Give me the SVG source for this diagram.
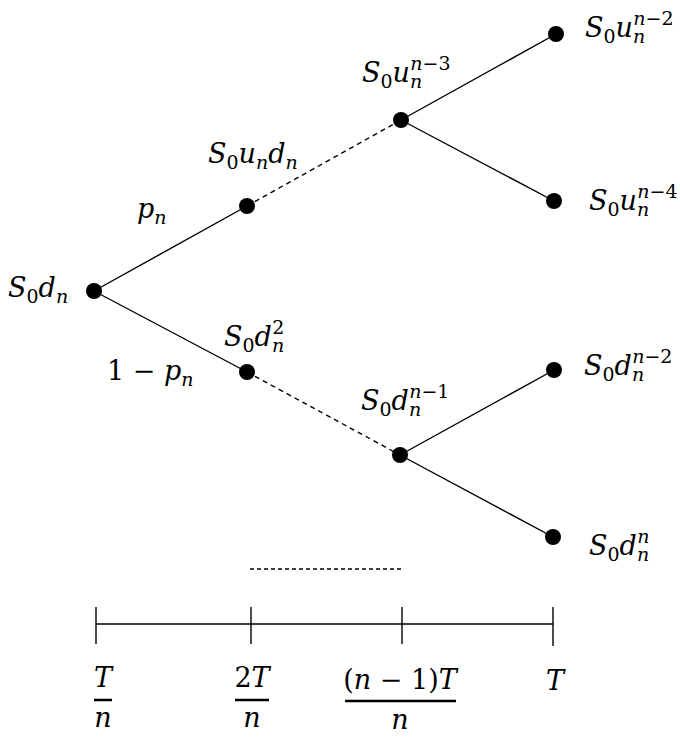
<svg xmlns="http://www.w3.org/2000/svg" width="680" height="743" viewBox="0 0 680 743">
<style>
.t{font-family:"DejaVu Serif",serif;font-size:27px;font-style:italic;fill:#000}
.u{font-style:normal}
.s{font-size:19px}
.e{stroke:#000;stroke-width:1.4;fill:none}
.d{stroke-dasharray:5 4}
.n{fill:#000}
.c{text-anchor:middle}
</style>
<rect width="680" height="743" fill="#fff"/>
<g id="connectors">
<line class="e" x1="94" y1="291" x2="247" y2="206"/>
<line class="e" x1="94" y1="291" x2="247" y2="372"/>
<line class="e d" x1="247" y1="206" x2="401" y2="120"/>
<line class="e d" x1="247" y1="372" x2="400" y2="455"/>
<line class="e" x1="401" y1="120" x2="556" y2="34"/>
<line class="e" x1="401" y1="120" x2="554" y2="201"/>
<line class="e" x1="400" y1="455" x2="554" y2="370"/>
<line class="e" x1="400" y1="455" x2="553" y2="537"/>
</g>
<g id="root"><circle class="n" cx="94" cy="291" r="8"/>
<text class="t" x="8" y="297">S<tspan class="s u" dy="6">0</tspan><tspan dy="-6">d</tspan><tspan class="s" dy="6">n</tspan></text></g>
<g id="pn"><text class="t" x="137" y="218">p<tspan class="s" dy="6">n</tspan></text></g>
<g id="qn"><text class="t" x="107" y="380"><tspan class="u">1 − </tspan>p<tspan class="s" dy="6">n</tspan></text></g>
<g id="ud"><circle class="n" cx="247" cy="206" r="8"/>
<text class="t" x="208" y="163">S<tspan class="s u" dy="6">0</tspan><tspan dy="-6">u</tspan><tspan class="s" dy="6">n</tspan><tspan dy="-6">d</tspan><tspan class="s" dy="6">n</tspan></text></g>
<g id="dd"><circle class="n" cx="247" cy="372" r="8"/>
<text class="t" x="224" y="346">S<tspan class="s u" dy="6">0</tspan><tspan dy="-6">d</tspan><tspan class="s" dy="6">n</tspan><tspan class="s u" dx="-12" dy="-18">2</tspan></text></g>
<g id="un3"><circle class="n" cx="401" cy="120" r="8"/>
<text class="t" x="362" y="82">S<tspan class="s u" dy="6">0</tspan><tspan dy="-6">u</tspan><tspan class="s" dy="6">n</tspan><tspan class="s" dx="-12" dy="-18">n</tspan><tspan class="s u">−3</tspan></text></g>
<g id="dn1"><circle class="n" cx="400" cy="455" r="8"/>
<text class="t" x="361" y="410">S<tspan class="s u" dy="6">0</tspan><tspan dy="-6">d</tspan><tspan class="s" dy="6">n</tspan><tspan class="s" dx="-12" dy="-18">n</tspan><tspan class="s u">−1</tspan></text></g>
<g id="un2"><circle class="n" cx="556" cy="34" r="8"/>
<text class="t" x="585" y="37">S<tspan class="s u" dy="6">0</tspan><tspan dy="-6">u</tspan><tspan class="s" dy="6">n</tspan><tspan class="s" dx="-12" dy="-18">n</tspan><tspan class="s u">−2</tspan></text></g>
<g id="un4"><circle class="n" cx="554" cy="201" r="8"/>
<text class="t" x="589" y="210">S<tspan class="s u" dy="6">0</tspan><tspan dy="-6">u</tspan><tspan class="s" dy="6">n</tspan><tspan class="s" dx="-12" dy="-18">n</tspan><tspan class="s u">−4</tspan></text></g>
<g id="dn2"><circle class="n" cx="554" cy="370" r="8"/>
<text class="t" x="584" y="375">S<tspan class="s u" dy="6">0</tspan><tspan dy="-6">d</tspan><tspan class="s" dy="6">n</tspan><tspan class="s" dx="-12" dy="-18">n</tspan><tspan class="s u">−2</tspan></text></g>
<g id="dnn"><circle class="n" cx="553" cy="537" r="8"/>
<text class="t" x="589" y="555">S<tspan class="s u" dy="6">0</tspan><tspan dy="-6">d</tspan><tspan class="s" dy="6">n</tspan><tspan class="s" dx="-12" dy="-18">n</tspan></text></g>
<g id="timeline">
<line class="e d" x1="250" y1="569" x2="401" y2="569" style="stroke-dasharray:4 3"/>
<line class="e" x1="96" y1="624" x2="553" y2="624"/>
<line class="e" x1="96" y1="607" x2="96" y2="644"/>
<line class="e" x1="251" y1="607" x2="251" y2="644"/>
<line class="e" x1="402" y1="607" x2="402" y2="644"/>
<line class="e" x1="553" y1="607" x2="553" y2="646"/>
<text class="t c" x="103" y="687">T</text>
<line x1="94" y1="700" x2="112" y2="700" stroke="#000" stroke-width="2.5"/>
<text class="t c" x="103" y="727">n</text>
<text class="t c" x="252" y="687"><tspan class="u">2</tspan>T</text>
<line x1="235" y1="700" x2="269" y2="700" stroke="#000" stroke-width="2.5"/>
<text class="t c" x="252" y="727">n</text>
<text class="t c" x="400" y="689"><tspan class="u">(</tspan>n<tspan class="u"> − 1)</tspan>T</text>
<line x1="345" y1="701" x2="456" y2="701" stroke="#000" stroke-width="2.5"/>
<text class="t c" x="400" y="729">n</text>
<text class="t c" x="555" y="690">T</text>
</g>
</svg>
